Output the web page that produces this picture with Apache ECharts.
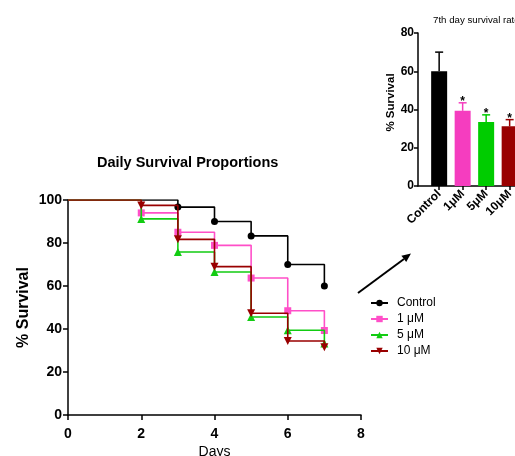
<!DOCTYPE html>
<html>
<head>
<meta charset="utf-8">
<script src="https://cdn.jsdelivr.net/npm/echarts@6/dist/echarts.min.js"></script>
<style>html,body{margin:0;padding:0;background:#fff;}#c{width:515px;height:456px;}</style>
</head>
<body>
<div id="c"></div>
<script>
// ---- Main survival curve data ----
const seriesNames = ['Control', '1 μM', '5 μM', '10 μM'];
const ctrlDays = [0, 3, 4, 5, 6, 7];
const ctrlSurv = [100, 96.7, 90, 83.3, 70, 60];
const uM1Days = [0, 2, 3, 4, 5, 6, 7];
const uM1Surv = [100, 94, 85, 78.9, 63.7, 48.5, 39.3];
const uM5Days = [0, 2, 3, 4, 5, 6, 7];
const uM5Surv = [100, 91.2, 75.8, 66.5, 45.6, 39.4, 33.3];
const uM10Days = [0, 2, 3, 4, 5, 6, 7];
const uM10Surv = [100, 97.5, 81.7, 69, 47.3, 34.4, 31.5];
const xTicks = [0, 2, 4, 6, 8];
const yTicks = [0, 20, 40, 60, 80, 100];

// ---- Inset bar data (7th day survival) ----
const barCats = ['Control', '1μM', '5μM', '10μM'];
const barMeans = [60, 39.3, 33.4, 31.2];
const barErr = [10, 4.2, 3.8, 3.5];
const barSig = [0, 1, 1, 1];
const barTicks = [0, 20, 40, 60, 80];

const colors = ['#000000', '#FF4FC8', '#12CC12', '#990000'];
const barColors = ['#000000', '#F53DBF', '#00CC00', '#990000'];
const symbols = ['circle', 'rect', 'triangle', 'path://M0,0 L10,0 L5,9 Z'];
const FONT = 'Liberation Sans, Arial, sans-serif';

function toPoints(days, vals) {
  return days.map((d, i) => i === 0 ? { value: [d, vals[i]], symbol: 'none' } : [d, vals[i]]);
}
const allDays = [ctrlDays, uM1Days, uM5Days, uM10Days];
const allSurv = [ctrlSurv, uM1Surv, uM5Surv, uM10Surv];

const chart = echarts.init(document.getElementById('c'), null, { renderer: 'canvas' });

const lineSeries = seriesNames.map((n, k) => ({
  name: n,
  type: 'line',
  xAxisIndex: 0, yAxisIndex: 0,
  step: 'end',
  data: toPoints(allDays[k], allSurv[k]),
  symbol: symbols[k],
  symbolSize: k === 0 ? 7 : (k === 1 ? 7 : 8),
  showAllSymbol: true,
  lineStyle: { color: colors[k], width: 1.6 },
  itemStyle: { color: colors[k] },
  emphasis: { disabled: true },
  animation: false,
  z: 2 + k
}));

const option = {
  animation: false,
  textStyle: { fontFamily: FONT },
  title: [
    { text: 'Daily Survival Proportions', left: 92, top: 150,
      textStyle: { fontFamily: FONT, fontSize: 14.5, fontWeight: 'bold', color: '#000' } },
    { text: '7th day survival rate', left: 428, top: 10,
      textStyle: { fontFamily: FONT, fontSize: 9.7, fontWeight: 'normal', color: '#000' } }
  ],
  legend: {
    left: 365, top: 292, orient: 'vertical',
    itemWidth: 17, itemHeight: 8, itemGap: 4,
    data: seriesNames,
    textStyle: { fontFamily: FONT, fontSize: 12, color: '#000', padding: [0, 0, 0, 4] }
  },
  grid: [
    { left: 68, right: 154, top: 200, bottom: 41, containLabel: false, outerBoundsMode: 'none' },
    { left: 418, right: -18.15, top: 33, bottom: 270, containLabel: false, outerBoundsMode: 'none' }
  ],
  xAxis: [
    { type: 'value', gridIndex: 0, min: 0, max: 8, interval: 2,
      name: 'Days', nameLocation: 'middle', nameGap: 30,
      nameTextStyle: { fontFamily: FONT, fontSize: 14, color: '#000' },
      axisLine: { lineStyle: { color: '#000', width: 1.5 } },
      axisTick: { show: true, inside: false, length: 5, lineStyle: { color: '#000', width: 1.5 } },
      axisLabel: { fontFamily: FONT, fontSize: 14, fontWeight: 'bold', color: '#000', margin: 12 },
      splitLine: { show: false } },
    { type: 'value', gridIndex: 1, min: 0.1, max: 5,
      axisLine: { lineStyle: { color: '#000', width: 1.5 } },
      axisTick: { show: true, length: 4, customValues: [1, 2, 3, 4], lineStyle: { color: '#000', width: 1.5 } },
      axisLabel: { customValues: [1, 2, 3, 4], rotate: 45, margin: 6,
        formatter: v => barCats[Math.round(v) - 1] || '',
        fontFamily: FONT, fontSize: 12, fontWeight: 'bold', color: '#000' },
      splitLine: { show: false } }
  ],
  yAxis: [
    { type: 'value', gridIndex: 0, min: 0, max: 100, interval: 20,
      name: '% Survival', nameLocation: 'middle', nameGap: 36, nameRotate: 90, nameMoveOverlap: false,
      nameTextStyle: { fontFamily: FONT, fontSize: 16, fontWeight: 'bold', color: '#000' },
      axisLine: { show: true, lineStyle: { color: '#000', width: 1.5 } },
      axisTick: { show: true, length: 5, lineStyle: { color: '#000', width: 1.5 } },
      axisLabel: { fontFamily: FONT, fontSize: 14, fontWeight: 'bold', color: '#000', margin: 6 },
      splitLine: { show: false } },
    { type: 'value', gridIndex: 1, min: 0, max: 80, interval: 20,
      axisLine: { show: true, lineStyle: { color: '#000', width: 1.5 } },
      axisTick: { show: true, length: 4, lineStyle: { color: '#000', width: 1.5 } },
      axisLabel: { fontFamily: FONT, fontSize: 12, fontWeight: 'bold', color: '#000', margin: 4 },
      splitLine: { show: false } }
  ],
  series: lineSeries.concat([
    {
      type: 'bar', xAxisIndex: 1, yAxisIndex: 1,
      barWidth: 16,
      data: barMeans.map((m, i) => ({ value: [i + 1, m], itemStyle: { color: barColors[i] } })),
      emphasis: { disabled: true },
      z: 2
    },
    {
      type: 'custom', xAxisIndex: 1, yAxisIndex: 1,
      data: barMeans.map((m, i) => [i + 1, m, barErr[i], barSig[i], i]),
      renderItem: function (params, api) {
        const x = api.value(0), m = api.value(1), e = api.value(2), s = api.value(3), idx = api.value(4);
        const p0 = api.coord([x, m]);
        const p1 = api.coord([x, m + e]);
        const col = barColors[idx];
        const children = [
          { type: 'line', shape: { x1: p0[0], y1: p0[1], x2: p1[0], y2: p1[1] }, style: { stroke: col, lineWidth: 1.5 } },
          { type: 'line', shape: { x1: p1[0] - 4, y1: p1[1], x2: p1[0] + 4, y2: p1[1] }, style: { stroke: col, lineWidth: 1.5 } }
        ];
        if (s) {
          children.push({ type: 'text', style: { text: '*', x: p1[0], y: p1[1] + 5, align: 'center', verticalAlign: 'bottom',
            fontFamily: FONT, fontSize: 12, fontWeight: 'bold', fill: '#000' } });
        }
        return { type: 'group', children: children };
      },
      z: 3
    }
  ]),
  graphic: [
    { type: 'text', x: 391, y: 102.5, rotation: Math.PI / 2,
      style: { text: '% Survival', align: 'center', verticalAlign: 'middle',
        fontFamily: FONT, fontSize: 11.5, fontWeight: 'bold', fill: '#000' } },
    { type: 'line', shape: { x1: 358, y1: 293, x2: 404, y2: 259 }, style: { stroke: '#000', lineWidth: 2 } },
    { type: 'polygon', shape: { points: [[411, 253.5], [406.2, 262.1], [401.4, 255.7]] }, style: { fill: '#000' } }
  ]
};
chart.setOption(option);
</script>
</body>
</html>
